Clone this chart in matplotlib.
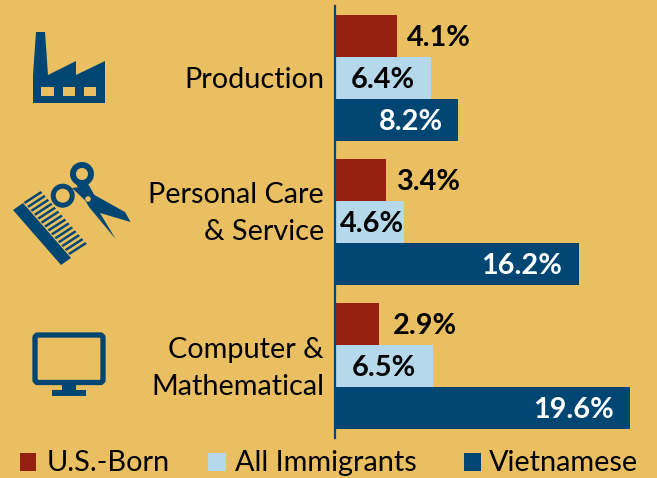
import numpy as np
import matplotlib
matplotlib.use("Agg")
import matplotlib.pyplot as plt
from matplotlib.patches import Polygon, Rectangle, Circle, FancyBboxPatch
from matplotlib.transforms import ScaledTranslation

categories = ["Production", "Personal Care\n& Service", "Computer &\nMathematical"]
series_names = ["U.S.-Born", "All Immigrants", "Vietnamese"]
us_born = [4.1, 3.4, 2.9]
all_immigrants = [6.4, 4.6, 6.5]
vietnamese = [8.2, 16.2, 19.6]

BG = "#E9BF62"; RED = "#962110"; LIGHT = "#B5D9EA"; NAVY = "#004673"
W, H = 657, 478
plt.rcParams["font.family"] = ["Lato", "DejaVu Sans"]
FS_CAT = 20.8
FS_VAL = 20.8
FS_LEG = 20.8
px = 0.72  # points per pixel at dpi 100

fig = plt.figure(figsize=(W/100, H/100), dpi=100, facecolor=BG)
ax = fig.add_axes([335/W, 1-438/H, (W-335)/W, 432/H], facecolor="none")
ax.set_xlim(0, (W-335)/15.05)
ax.set_ylim(2.5, -0.5)
y = np.arange(3)
bh = 42/144
colors = [RED, LIGHT, NAVY]
all_series = [us_born, all_immigrants, vietnamese]
# label placement per bar: (horizontal offset from bar end in px, ha, colour)
label_style = [
    [(10, "left", "black"), (10, "left", "black"), (14, "left", "black")],
    [(-16, "right", "black"), (0, "right", "black"), (-17, "right", "black")],
    [(-15, "right", "white"), (-17, "right", "white"), (-16, "right", "white")],
]
for i, (vals, c) in enumerate(zip(all_series, colors)):
    yy = y + (i-1)*bh
    ax.barh(yy, vals, height=bh, color=c, linewidth=0, zorder=2)
    for v, yv, (dx, ha, tc) in zip(vals, yy, label_style[i]):
        ax.annotate(f"{v:.1f}%", (v, yv), xytext=(dx*px, -2*px), textcoords="offset points",
                    ha=ha, va="center", color=tc, fontsize=FS_VAL, fontweight="bold", zorder=3)

for s in ["top", "right", "bottom"]:
    ax.spines[s].set_visible(False)
ax.spines["left"].set_color(NAVY)
ax.spines["left"].set_linewidth(1.6)
ax.spines["left"].set_zorder(4)
ax.set_xticks([])
ax.set_yticks(y)
ax.set_yticklabels(categories, fontsize=FS_CAT, color="black", linespacing=1.55, ha="right", multialignment="right")
ax.tick_params(axis="y", length=0, pad=8)
shifts = [-1, -17, -6]
for lab, s in zip(ax.get_yticklabels(), shifts):
    lab.set_transform(lab.get_transform() + ScaledTranslation(0, -s/100, fig.dpi_scale_trans))

# icon layer in pixel coordinates
ov = fig.add_axes([0, 0, 1, 1], facecolor="none", zorder=-1)
ov.set_xlim(0, W); ov.set_ylim(H, 0); ov.axis("off")
def poly(p, c=NAVY, z=2):
    ov.add_patch(Polygon(p, closed=True, fc=c, ec="none", zorder=z))
# factory
poly([(36,32),(45,32),(48,75),(76,61),(76,75),(105,61),(105,103),(33,103),(33,75)])
for x0, x1 in [(41,54),(63,75),(84,96)]:
    ov.add_patch(Rectangle((x0,87), x1-x0, 9, fc=BG, ec="none", zorder=3))
# scissors
for (cx, cy), r in zip([(82,174),(62.7,195.7)], [6, 7]):
    ov.add_patch(Circle((cx,cy), 12, fc=NAVY, ec="none", zorder=2))
    ov.add_patch(Circle((cx,cy), r, fc=BG, ec="none", zorder=3))
poly([(76,184),(87,182),(96,198),(100,213),(115.6,239),(89,207)])
poly([(72,188),(80,187),(125,212),(130.6,222),(100,213),(90,205)])
ov.add_patch(Circle((88,199), 2.8, fc=BG, ec="none", zorder=3))
# comb
poly([(13,210),(23,203),(71,258),(61,265)])
a = np.array([24.5,203.]); b = np.array([69,254.]); d = np.array([17,-11.])
for t in np.linspace(0, 1, 14):
    s = a + (b-a)*t
    w = (b-a)/14*0.26
    poly([s-w, s+w, s+w+d, s-w+d])
# monitor
ov.add_patch(FancyBboxPatch((35,335), 68, 47.5, boxstyle="round,pad=0,rounding_size=3", fc="none", ec=NAVY, lw=3.8))
ov.add_patch(Rectangle((62,385), 14, 6, fc=NAVY, ec="none"))
ov.add_patch(Rectangle((52,390), 34, 6, fc=NAVY, ec="none"))

# legend
for (x0, x1), tx, name, c in zip([(20,36),(208,226),(464,481)], [47,235,489], series_names, colors):
    ov.add_patch(Rectangle((x0,453), x1-x0, 18, fc=c, ec="none"))
    ov.text(tx, 463, name, fontsize=FS_LEG, color="black", ha="left", va="center")

fig.savefig("out.png", dpi=100, facecolor=BG)
